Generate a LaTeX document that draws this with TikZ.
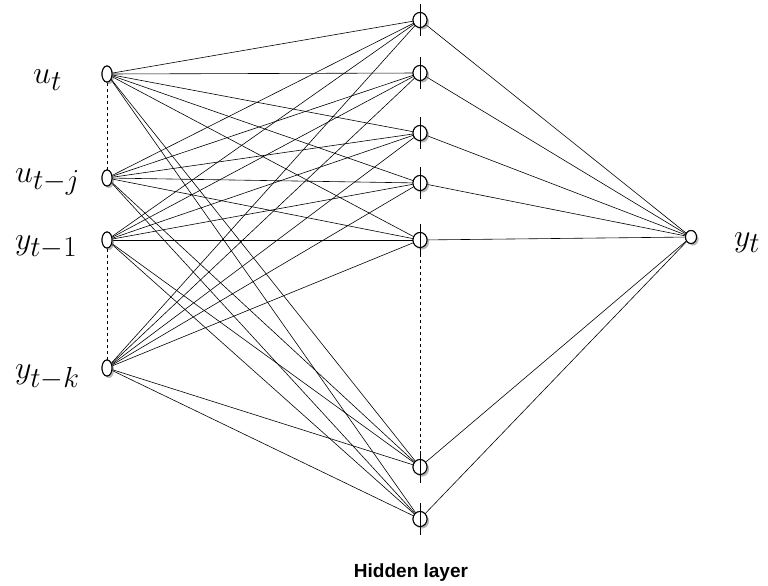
\RequirePackage{fix-cm}
\documentclass[tikz,border=0pt]{standalone}
\usepackage{fontspec}
\newfontfamily\labelfont{Liberation Sans}
\usetikzlibrary{shadows,shapes.geometric}
\DeclareMathSizes{32}{32}{29}{24}

\tikzset{
  unit/.style={draw, ellipse, fill=white, inner sep=0pt, minimum width=10pt, minimum height=16pt, line width=1pt, drop shadow={opacity=0.35, shadow xshift=2pt, shadow yshift=-2pt}},
  hunit/.style={unit, minimum width=14pt, minimum height=15pt},
  outunit/.style={unit, minimum width=11pt, minimum height=13pt},
  lbl/.style={font=\fontsize{32}{38}\selectfont, inner sep=0pt, anchor=base west},
  link/.style={line width=0.6pt}
}

\begin{document}
\begin{tikzpicture}[x=1pt, y=-1pt]
  \useasboundingbox (0,0) rectangle (768,586);

  % inputs
  \node[unit](i1) at (107,  74) {};
  \node[unit](i2) at (107, 178) {};
  \node[unit](i3) at (107, 240) {};
  \node[unit](i4) at (107, 368) {};

  \node[lbl] (lu)  at (33,  84) {$u_t$};
  \node[lbl] (luj) at (15, 182) {$u_{t-j}$};
  \node[lbl] (ly1) at (15, 249) {$y_{t-1}$};
  \node[lbl] (lyk) at (15, 378) {$y_{t-k}$};

  % hidden layer
  \node[hunit](h1) at (420,  20) {};
  \node[hunit](h2) at (420,  73) {};
  \node[hunit](h3) at (420, 133) {};
  \node[hunit](h4) at (420, 183) {};
  \node[hunit](h5) at (420, 240) {};
  \node[hunit](h6) at (420, 467) {};
  \node[hunit](h7) at (420, 519) {};

  % output
  \node[outunit](o) at (691, 237) {};
  \node[lbl] (ly) at (734, 246) {$y_t$};

  \node[font=\labelfont\bfseries\fontsize{19}{22}\selectfont, anchor=base, inner sep=0pt] (hl) at (411, 577) {Hidden layer};

  % connections
  \foreach \i in {1,...,4}
    \foreach \h in {1,...,7}
      \draw[link] (i\i) -- (h\h);
  \foreach \h in {1,...,7}
    \draw[link] (h\h) -- (o);

  \draw[dashed, line width=0.6pt] (i1) -- (i2);
  \draw[dashed, line width=0.6pt] (i3) -- (i4);
  \draw[dashed, line width=0.6pt] (h5) -- (h6);

  % redraw units on top
  \foreach \n in {i1,i2,i3,i4}
    \node[unit] at (\n) {};
  \foreach \n in {h1,h2,h3,h4,h5,h6,h7}
    \node[hunit] at (\n) {};
  \node[outunit] at (o) {};
  \foreach \h in {1,...,7}
    \draw[line width=1pt] ([yshift=8pt]h\h.north) -- ([yshift=-8pt]h\h.south);
\end{tikzpicture}
\end{document}
